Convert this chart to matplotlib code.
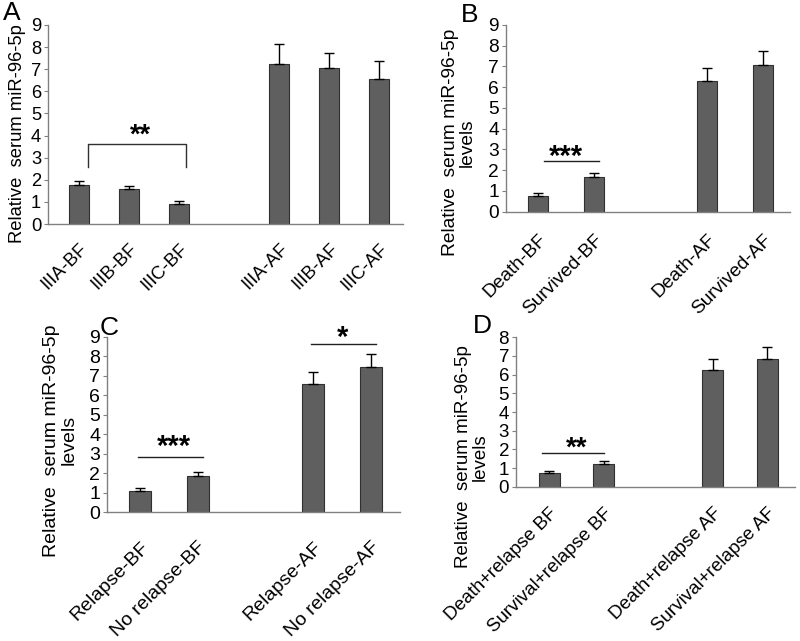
import numpy as np
import matplotlib.pyplot as plt

plt.rcParams['font.family'] = ['Liberation Sans', 'DejaVu Sans']

# panel A
a_labels = ['IIIA-BF', 'IIIB-BF', 'IIIC-BF', 'IIIA-AF', 'IIIB-AF', 'IIIC-AF']
a_pos = [0, 1, 2, 4, 5, 6]
a_vals = [1.76, 1.58, 0.90, 7.24, 7.07, 6.57]
a_err = [0.19, 0.14, 0.14, 0.89, 0.68, 0.80]

# panel B
b_labels = ['Death-BF', 'Survived-BF', 'Death-AF', 'Survived-AF']
b_pos = [0, 1, 3, 4]
b_vals = [0.77, 1.69, 6.30, 7.06]
b_err = [0.15, 0.18, 0.61, 0.70]

# panel C
c_labels = ['Relapse-BF', 'No relapse-BF', 'Relapse-AF', 'No relapse-AF']
c_pos = [0, 1, 3, 4]
c_vals = [1.09, 1.88, 6.56, 7.45]
c_err = [0.14, 0.19, 0.62, 0.68]

# panel D
d_labels = ['Death+relapse BF', 'Survival+relapse BF', 'Death+relapse AF', 'Survival+relapse AF']
d_pos = [0, 1, 3, 4]
d_vals = [0.72, 1.22, 6.25, 6.84]
d_err = [0.14, 0.16, 0.59, 0.66]

ylab1 = 'Relative  serum miR-96-5p'
ylab2 = 'Relative  serum miR-96-5p\nlevels'

fig = plt.figure(figsize=(8, 6.41), dpi=100)


def panel(rect, pos, vals, err, labels, xlim, ymax, width, ylabel, lab_xy,
          fs, xpad, letter, letter_xy):
    ax = fig.add_axes(rect)
    ax.bar(pos, vals, width=width, color='#5f5f5f', edgecolor='#303030', linewidth=0.8,
           yerr=[np.zeros(len(err)), err], capsize=3.5,
           error_kw=dict(ecolor='black', elinewidth=1.0, capthick=1.0))
    ax.set_xlim(*xlim)
    ax.set_ylim(0, ymax)
    ax.set_yticks(range(ymax + 1))
    ax.set_xticks(pos)
    ax.set_xticklabels(labels, rotation=45, ha='right', rotation_mode='anchor', fontsize=fs)
    ax.tick_params(axis='y', labelsize=fs, length=3, color='#808080', pad=2)
    ax.tick_params(axis='x', length=0, pad=xpad)
    for s in ['top', 'right']:
        ax.spines[s].set_visible(False)
    for s in ['left', 'bottom']:
        ax.spines[s].set_color('#808080')
        ax.spines[s].set_linewidth(1.0)
    ax.set_ylabel(ylabel, fontsize=fs, linespacing=1.0)
    ax.yaxis.set_label_coords(*lab_xy)
    fig.text(letter_xy[0], letter_xy[1], letter, fontsize=19, ha='left', va='top')
    return ax


star_kw = dict(ha='center', va='baseline', fontweight='bold')

axA = panel([0.06, 0.6505, 0.444, 0.3105], a_pos, a_vals, a_err, a_labels,
            (-0.62, 6.48), 9, 0.4, ylab1, (-0.062, 0.455), 13.2, 12, 'A', (0.004, 0.998))
axA.plot([0.18, 0.18, 2.14, 2.14], [2.6, 3.6, 3.6, 2.6], color='#303030', lw=1.0)
axA.text(1.22, 3.68, '**', fontsize=19.5, **star_kw)

axB = panel([0.6325, 0.6697, 0.355, 0.2913], b_pos, b_vals, b_err, b_labels,
            (-0.57, 4.48), 9, 0.36, ylab2, (-0.106, 0.37), 13.8, 14, 'B', (0.576, 0.996))
axB.plot([0.11, 1.08], [2.46, 2.46], color='#202020', lw=1.0)
axB.text(0.49, 2.27, '***', fontsize=21, **star_kw)

axC = panel([0.1338, 0.2008, 0.366, 0.274], c_pos, c_vals, c_err, c_labels,
            (-0.57, 4.5), 9, 0.38, ylab2, (-0.102, 0.41), 14, 19, 'C', (0.124, 0.507))
axC.plot([-0.03, 1.1], [2.85, 2.85], color='#202020', lw=1.0)
axC.text(0.59, 2.92, '***', fontsize=21, **star_kw)
axC.plot([2.96, 4.09], [8.63, 8.63], color='#202020', lw=1.0, clip_on=False)
axC.text(3.51, 8.54, '*', fontsize=21, clip_on=False, **star_kw)

axD = panel([0.645, 0.2407, 0.349, 0.2331], d_pos, d_vals, d_err, d_labels,
            (-0.61, 4.51), 8, 0.39, ylab2, (-0.097, 0.2), 13.5, 13, 'D', (0.591, 0.51))
axD.plot([-0.13, 1.01], [1.79, 1.79], color='#202020', lw=1.0)
axD.text(0.5, 1.66, '**', fontsize=20, **star_kw)

fig.savefig('out.png', dpi=100)
